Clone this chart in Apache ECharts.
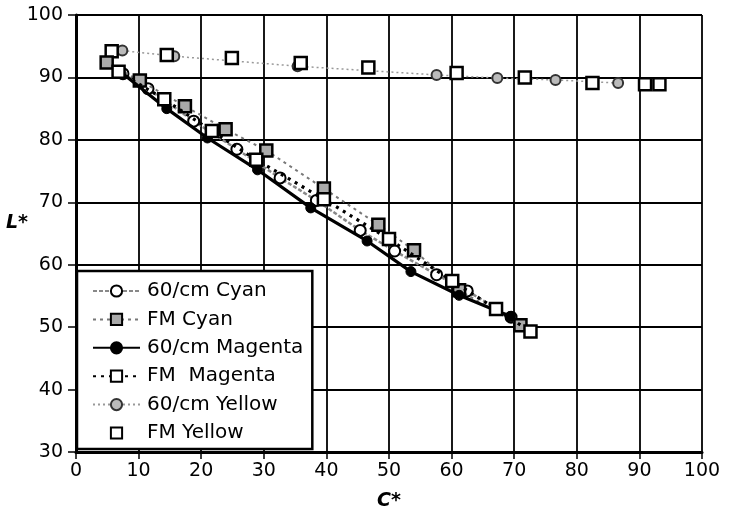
<!DOCTYPE html>
<html><head><meta charset="utf-8">
<script src="https://cdn.jsdelivr.net/npm/echarts@6/dist/echarts.min.js"></script>
<style>html,body{margin:0;padding:0;background:#fff}#c{width:734px;height:522px}</style>
</head><body><div id="c"></div>
<script>
const xTicks = [0,10,20,30,40,50,60,70,80,90,100];
const yTicks = [30,40,50,60,70,80,90,100];

const cyan60C = [7.5, 11.5, 18.8, 25.7, 32.6, 38.4, 45.4, 50.9, 57.6, 62.5, 69.5];
const cyan60L = [90.6, 88.2, 83.0, 78.5, 73.9, 70.3, 65.5, 62.2, 58.4, 55.8, 51.6];

const cyanFMC = [4.9, 10.2, 17.4, 23.9, 30.4, 39.6, 48.3, 54.0, 61.2, 71.0];
const cyanFML = [92.4, 89.5, 85.4, 81.7, 78.3, 72.2, 66.4, 62.3, 55.9, 50.3];

const mag60C = [7.0, 14.5, 21.0, 29.0, 37.5, 46.5, 53.5, 61.2, 69.4];
const mag60L = [91.0, 85.0, 80.3, 75.2, 69.1, 63.8, 58.9, 55.1, 51.7];

const magFMC = [6.8, 14.1, 21.7, 28.8, 39.6, 50.0, 60.1, 67.1, 72.6];
const magFML = [90.9, 86.5, 81.4, 76.8, 70.5, 64.1, 57.4, 52.9, 49.3];

const yel60C = [7.4, 15.7, 35.4, 57.6, 67.3, 76.6, 86.6];
const yel60L = [94.3, 93.4, 91.8, 90.4, 89.9, 89.6, 89.1];

const yelFMC = [5.7, 14.5, 24.9, 35.9, 46.7, 60.8, 71.7, 82.5, 90.9, 93.2];
const yelFML = [94.2, 93.6, 93.1, 92.3, 91.6, 90.7, 90.0, 89.1, 88.9, 88.9];

const names = ['60/cm Cyan','FM Cyan','60/cm Magenta','FM  Magenta','60/cm Yellow','FM Yellow'];
const xTitle = 'C*';
const yTitle = 'L*';

function pts(xs, ys){ return xs.map((x,i)=>[x, ys[i]]); }

const FONT = 'DejaVu Sans, Arial, sans-serif';
const chart = echarts.init(document.getElementById('c'), null, {renderer:'canvas'});
chart.setOption({
  animation:false,
  backgroundColor:'#fff',
  grid:{left:76, right:32, top:15, bottom:70, containLabel:false},
  xAxis:{
    type:'value', min:0, max:100, interval:10,
    name:xTitle, nameLocation:'middle', nameGap:40,
    nameTextStyle:{fontFamily:FONT, fontSize:19, fontWeight:'bold', fontStyle:'italic', color:'#000'},
    axisLine:{show:true, onZero:false, lineStyle:{color:'#000', width:3}},
    axisTick:{show:true, length:7, lineStyle:{color:'#000', width:1.5}},
    axisLabel:{fontFamily:FONT, fontSize:19, color:'#000', margin:10},
    splitLine:{show:true, lineStyle:{color:'#000', width:1.8}}
  },
  yAxis:{
    type:'value', min:30, max:100, interval:10,
    axisLine:{show:true, onZero:false, lineStyle:{color:'#000', width:3}},
    axisTick:{show:true, length:8, lineStyle:{color:'#000', width:1.5}},
    axisLabel:{fontFamily:FONT, fontSize:19, color:'#000', margin:13},
    splitLine:{show:true, lineStyle:{color:'#000', width:1.8}}
  },
  graphic:[{type:'text', left:6, top:214, z:10,
    style:{text:yTitle, fontFamily:FONT, fontSize:19, fontWeight:'bold', fontStyle:'italic', fill:'#000'}}],
  legend:{
    orient:'vertical', left:77, top:271,
    backgroundColor:'#fff', borderColor:'#000', borderWidth:2.5, borderRadius:0,
    padding:[10, 9, 6, 15], itemGap:8.4, itemWidth:47, itemHeight:14,
    textStyle:{fontFamily:FONT, fontSize:20, lineHeight:20, color:'#000', padding:[0,0,0,2]},
    data:names
  },
  series:[
    {name:names[4], type:'line', data:pts(yel60C, yel60L), symbol:'circle', symbolSize:10, z:2,
     lineStyle:{color:'#999', width:1.5, type:[2,3]},
     itemStyle:{color:'#bbb', borderColor:'#333', borderWidth:2}},
    {name:names[5], type:'line', data:pts(yelFMC, yelFML), symbol:'rect', symbolSize:12, z:3,
     lineStyle:{opacity:0, width:0},
     itemStyle:{color:'#fff', borderColor:'#000', borderWidth:2.5}},
    {name:names[0], type:'line', data:pts(cyan60C, cyan60L), symbol:'circle', symbolSize:11, z:3,
     lineStyle:{color:'#888', width:2.5, type:[4,2]},
     itemStyle:{color:'#fff', borderColor:'#000', borderWidth:2}},
    {name:names[1], type:'line', data:pts(cyanFMC, cyanFML), symbol:'rect', symbolSize:12, z:4,
     lineStyle:{color:'#777', width:2, type:[3,4]},
     itemStyle:{color:'#aaa', borderColor:'#000', borderWidth:2.5}},
    {name:names[2], type:'line', data:pts(mag60C, mag60L), symbol:'circle', symbolSize:10, z:5,
     lineStyle:{color:'#000', width:3.2, type:'solid'},
     itemStyle:{color:'#000', borderColor:'#000', borderWidth:1}},
    {name:names[3], type:'line', data:pts(magFMC, magFML), symbol:'rect', symbolSize:12, z:6,
     lineStyle:{color:'#000', width:3.2, type:[3,5]},
     itemStyle:{color:'#fff', borderColor:'#000', borderWidth:2.5}}
  ]
});
</script>
</body></html>
